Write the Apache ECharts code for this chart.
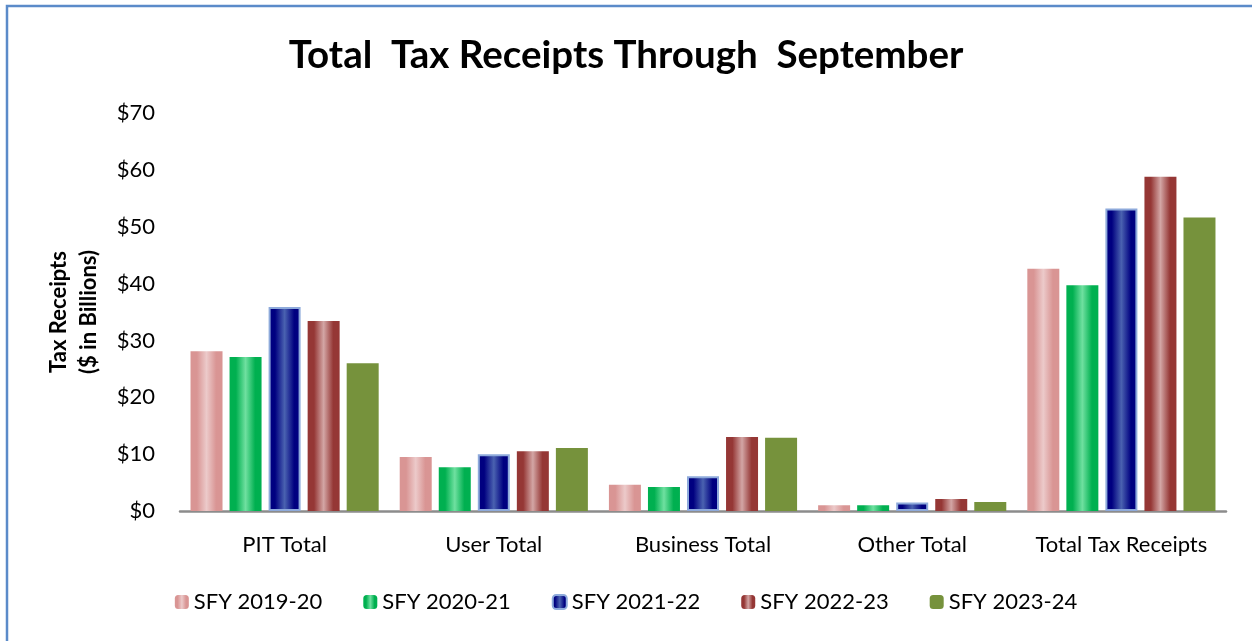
<!DOCTYPE html>
<html>
<head>
<meta charset="utf-8">
<script src="https://cdn.jsdelivr.net/npm/echarts@6/dist/echarts.min.js"></script>
<style>
html,body{margin:0;padding:0;background:#fff;}
#chart{width:1252px;height:641px;}
</style>
</head>
<body>
<div id="chart"></div>
<script>
const categories = ['PIT Total', 'User Total', 'Business Total', 'Other Total', 'Total Tax Receipts'];
const seriesNames = ['SFY 2019-20', 'SFY 2020-21', 'SFY 2021-22', 'SFY 2022-23', 'SFY 2023-24'];
const sfy1920 = [28.1, 9.5, 4.6, 1.0, 42.6];
const sfy2021 = [27.1, 7.7, 4.2, 1.0, 39.7];
const sfy2122 = [35.9, 10.0, 6.1, 1.5, 53.2];
const sfy2223 = [33.4, 10.5, 13.0, 2.1, 58.8];
const sfy2324 = [26.0, 11.1, 12.9, 1.6, 51.6];
const yTicks = [0, 10, 20, 30, 40, 50, 60, 70];

const FONT = 'Lato, "Open Sans", sans-serif';

function streak(base, light) {
  return new echarts.graphic.LinearGradient(0, 0, 1, 0, [
    { offset: 0, color: base },
    { offset: 0.2, color: base },
    { offset: 0.5, color: light },
    { offset: 0.8, color: base },
    { offset: 1, color: base }
  ]);
}

const styles = [
  { color: streak('#d99594', '#eccaca') },
  { color: streak('#00b050', '#6fe0a0') },
  { color: streak('#000080', '#4a62b0'), borderColor: '#8eaadb', borderWidth: 2 },
  { color: streak('#953735', '#d3a6a5') },
  { color: '#76923c' }
];
const dataSets = [sfy1920, sfy2021, sfy2122, sfy2223, sfy2324];

const chart = echarts.init(document.getElementById('chart'));
chart.setOption({
  animation: false,
  backgroundColor: '#ffffff',
  title: {
    text: 'Total  Tax Receipts Through  September',
    left: 'center',
    top: 31,
    textStyle: { fontFamily: FONT, fontWeight: 'bold', fontSize: 38.5, color: '#000' }
  },
  graphic: [{
    type: 'polyline',
    shape: { points: [[7, 660], [7, 6], [1260, 6]] },
    style: { stroke: '#5b8bc9', lineWidth: 2.5, fill: null },
    silent: true
  }],
  legend: {
    bottom: 23,
    left: 'center',
    itemWidth: 14,
    itemHeight: 14,
    itemGap: 41,
    textStyle: { fontFamily: FONT, fontSize: 22, color: '#000' },
    data: seriesNames
  },
  grid: { left: 180, right: 26, top: 113, bottom: 130 },
  xAxis: {
    type: 'category',
    data: categories,
    axisLine: { lineStyle: { color: '#8c8c8c', width: 2.5 } },
    axisTick: { show: false },
    axisLabel: { fontFamily: FONT, fontSize: 22, color: '#000', margin: 23, interval: 0 }
  },
  yAxis: {
    type: 'value',
    min: yTicks[0],
    max: yTicks[yTicks.length - 1],
    interval: 10,
    name: 'Tax Receipts\n($ in Billions)',
    nameLocation: 'middle',
    nameGap: 76,
    nameRotate: 90,
    nameTextStyle: { fontFamily: FONT, fontWeight: 'bold', fontSize: 22, color: '#000', lineHeight: 30 },
    axisLine: { show: false },
    axisTick: { show: false },
    splitLine: { show: false },
    axisLabel: { fontFamily: FONT, fontSize: 22, color: '#000', margin: 25, formatter: v => '$' + v }
  },
  series: seriesNames.map((n, i) => ({
    name: n,
    type: 'bar',
    data: dataSets[i],
    barWidth: 32,
    barGap: '22%',
    itemStyle: styles[i]
  }))
});
</script>
</body>
</html>
